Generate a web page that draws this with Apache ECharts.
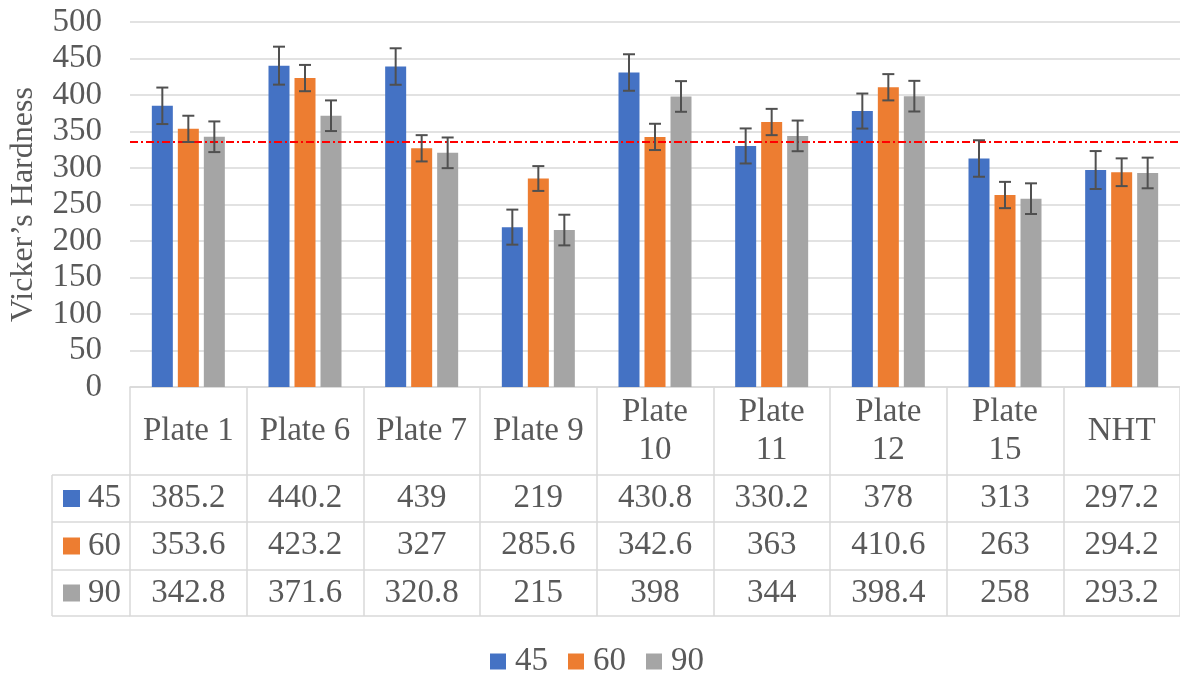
<!DOCTYPE html>
<html>
<head>
<meta charset="utf-8">
<script src="https://cdn.jsdelivr.net/npm/echarts@6/dist/echarts.min.js"></script>
<style>
html,body{margin:0;padding:0;background:#fff;}
#chart{width:1180px;height:673px;}
</style>
</head>
<body>
<div id="chart"></div>
<script>
// ---- data ----
const categories = ['Plate 1','Plate 6','Plate 7','Plate 9','Plate\n10','Plate\n11','Plate\n12','Plate\n15','NHT'];
const seriesNames = ['45','60','90'];
const values45 = [385.2,440.2,439,219,430.8,330.2,378,313,297.2];
const values60 = [353.6,423.2,327,285.6,342.6,363,410.6,263,294.2];
const values90 = [342.8,371.6,320.8,215,398,344,398.4,258,293.2];
const err45 = [25,26,25,24,25,24,24,25,26];
const err60 = [18,18,18,17,18,18,18,18,19];
const err90 = [21,21,21,21,21,21,21,21,21];
const referenceLine = 336;
const yTicks = {min:0, max:500, interval:50};

// ---- style ----
const FONT = "'Liberation Serif','Times New Roman',serif";
const TXT = '#595959';
const BORDER = '#D9D9D9';
const colors = ['#4472C4','#ED7D31','#A5A5A5'];
const BAR_W = 21, BAR_GAP = 5;
const gridLeft = 130, gridTop = 22, gridH = 365, gridW = 1057;
const rowOffsets = [88, 135, 183, 229];
const keyLeft = 52;

const allValues = [values45, values60, values90];
const allErr = [err45, err60, err90];

const chart = echarts.init(document.getElementById('chart'));

const xAxes = [{
  type:'category', data: categories, gridIndex:0, position:'bottom',
  axisLine:{show:true, lineStyle:{color:BORDER, width:1.5}},
  axisTick:{show:true, length: rowOffsets[3], lineStyle:{color:BORDER, width:1.5}},
  axisLabel:{interval:0, margin:44, verticalAlign:'middle', fontFamily:FONT, fontSize:33, color:TXT, lineHeight:38}
}];
for (let r = 0; r < 3; r++) {
  xAxes.push({
    type:'category', data: allValues[r].map(v => String(v)), gridIndex:0, position:'bottom', offset: rowOffsets[r],
    axisLine:{show:true, lineStyle:{color:BORDER, width:1.5}},
    axisTick:{show:false},
    axisLabel:{interval:0, margin:23, verticalAlign:'middle', fontFamily:FONT, fontSize:33, color:TXT}
  });
}
xAxes.push({
  type:'category', data: categories, gridIndex:0, position:'bottom', offset: rowOffsets[3],
  axisLine:{show:true, lineStyle:{color:BORDER, width:1.5}},
  axisTick:{show:false}, axisLabel:{show:false}
});

const series = [];
seriesNames.forEach((name, i) => {
  const s = {
    name, type:'bar', xAxisIndex:0, data: allValues[i], barWidth: BAR_W, barGap: (BAR_GAP/BAR_W*100)+'%',
    itemStyle:{color: colors[i]}
  };
  if (i === 0) {
    s.markLine = {
      silent:true, symbol:['none','none'], label:{show:false},
      lineStyle:{color:'#FF0000', width:2, type:[8,3,2,3]},
      data:[{yAxis: referenceLine}]
    };
  }
  series.push(s);
});
seriesNames.forEach((name, i) => {
  const off = (i - 1) * (BAR_W + BAR_GAP);
  series.push({
    type:'custom', xAxisIndex:0, z:5,
    data: allValues[i].map((v, k) => [k, v, allErr[i][k]]),
    encode:{x:0, y:1},
    renderItem: function(params, api){
      const x = api.value(0), y = api.value(1), e = api.value(2);
      const c = api.coord([x, y]);
      const top = api.coord([x, y + e])[1];
      const bot = api.coord([x, y - e])[1];
      const cx = c[0] + off;
      const st = {stroke:'#505050', lineWidth:2};
      return {type:'group', children:[
        {type:'line', shape:{x1:cx, y1:top, x2:cx, y2:bot}, style:st},
        {type:'line', shape:{x1:cx-6, y1:top, x2:cx+6, y2:top}, style:st},
        {type:'line', shape:{x1:cx-6, y1:bot, x2:cx+6, y2:bot}, style:st}
      ]};
    }
  });
});

// key column of the data table
const graphics = [];
const rowTops = rowOffsets.map(o => gridTop + gridH + o);
graphics.push({type:'line', shape:{x1:keyLeft, y1:rowTops[0], x2:keyLeft, y2:rowTops[3]}, style:{stroke:BORDER, lineWidth:1.5}});
rowTops.forEach(y => graphics.push({type:'line', shape:{x1:keyLeft, y1:y, x2:gridLeft, y2:y}, style:{stroke:BORDER, lineWidth:1.5}}));
for (let r = 0; r < 3; r++) {
  const cy = (rowTops[r] + rowTops[r+1]) / 2;
  graphics.push({type:'rect', shape:{x:63, y:cy-8.5, width:17, height:17}, style:{fill:colors[r]}});
  graphics.push({type:'text', x:88, y:cy, style:{text:seriesNames[r], font:'33px ' + FONT, fill:TXT, verticalAlign:'middle', align:'left'}});
}

chart.setOption({
  backgroundColor:'#fff',
  animation:false,
  grid:{left:gridLeft, top:gridTop, width:gridW, height:gridH, containLabel:false},
  legend:{
    data: seriesNames, left:485, top:640, icon:'rect', itemWidth:16, itemHeight:16, itemGap:20,
    textStyle:{fontFamily:FONT, fontSize:33, color:TXT, padding:[0,0,0,4]}
  },
  xAxis: xAxes,
  yAxis:{
    type:'value', min:yTicks.min, max:yTicks.max, interval:yTicks.interval,
    name:'Vicker\u2019s Hardness', nameLocation:'middle', nameGap:90,
    nameTextStyle:{fontFamily:FONT, fontSize:32, color:TXT},
    axisLine:{show:false}, axisTick:{show:false},
    axisLabel:{margin:28, fontFamily:FONT, fontSize:33, color:TXT},
    splitLine:{lineStyle:{color:BORDER, width:1.5}}
  },
  series,
  graphic: graphics
});
</script>
</body>
</html>
